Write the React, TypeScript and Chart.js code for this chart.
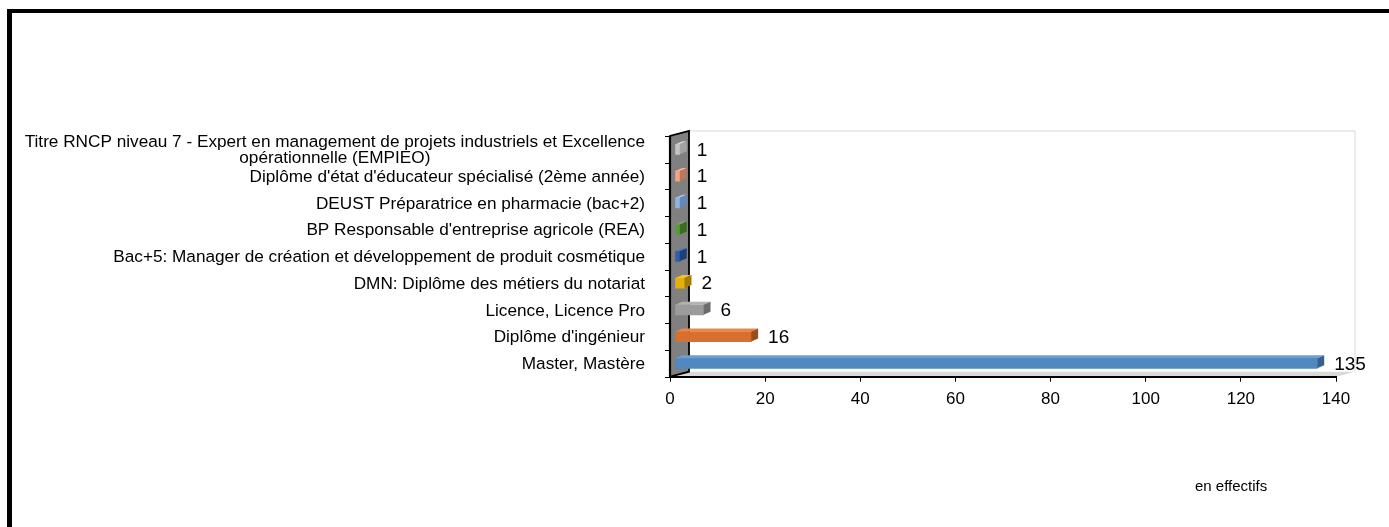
import React, { useEffect, useRef } from "react";
import { Chart, registerables } from "chart.js";

Chart.register(...registerables);

// ---------- data ----------
const categories: (string | string[])[] = [
  [
    "Titre RNCP niveau 7 - Expert en management de projets industriels et Excellence",
    "opérationnelle (EMPIEO)",
  ],
  "Diplôme d'état d'éducateur spécialisé (2ème année)",
  "DEUST Préparatrice en pharmacie (bac+2)",
  "BP Responsable d'entreprise agricole (REA)",
  "Bac+5: Manager de création et développement de produit cosmétique",
  "DMN: Diplôme des métiers du notariat",
  "Licence, Licence Pro",
  "Diplôme d'ingénieur",
  "Master, Mastère",
];
const values: number[] = [1, 1, 1, 1, 1, 2, 6, 16, 135];

const frontColors: string[] = [
  "#c4c4c4",
  "#f3a382",
  "#8fb3e2",
  "#5a9a37",
  "#2f5eab",
  "#e7b006",
  "#9b9b9b",
  "#d96f2c",
  "#4f89c0",
];
const topColors: string[] = [
  "#d6d6d6",
  "#f7bb9f",
  "#a9c6ec",
  "#74b050",
  "#4a78c2",
  "#f2c430",
  "#b2b2b2",
  "#e5884c",
  "#6a9fd0",
];
const sideColors: string[] = [
  "#a3a3a3",
  "#b8775e",
  "#6688b5",
  "#3c6b22",
  "#1f3f78",
  "#a67c00",
  "#6c6c6c",
  "#9b4c1b",
  "#36628f",
];

const xMin = 0;
const xMax = 140;
const xStep = 20;
const footnote = "en effectifs";

// ---------- style ----------
const FONT = "'Liberation Sans', Arial, Helvetica, sans-serif";
const DX = 19; // wall depth
const DY = -5;
const BAR_SHIFT = 5; // bar front plane offset from axis plane
const BAR_DX = 7;
const BAR_DY = -3;

function poly(ctx: CanvasRenderingContext2D, pts: number[][]) {
  ctx.beginPath();
  ctx.moveTo(pts[0][0], pts[0][1]);
  for (let i = 1; i < pts.length; i++) ctx.lineTo(pts[i][0], pts[i][1]);
  ctx.closePath();
}

const scenePlugin = {
  id: "scene3d",
  beforeDraw(chart: any) {
    const { ctx, chartArea: a, width, height } = chart;
    ctx.save();
    ctx.fillStyle = "#ffffff";
    ctx.fillRect(0, 0, width, height);

    // frame (top + left)
    ctx.fillStyle = "#000";
    ctx.fillRect(7, 9, width - 7, 4);
    ctx.fillRect(7, 9, 5, height - 9);

    // back wall outline
    ctx.strokeStyle = "#d9d9d9";
    ctx.lineWidth = 1;
    ctx.beginPath();
    ctx.moveTo(a.left + DX, a.top + DY);
    ctx.lineTo(a.right + DX, a.top + DY);
    ctx.lineTo(a.right + DX, a.bottom + DY);
    ctx.stroke();

    // floor
    ctx.fillStyle = "#d9d9d9";
    poly(ctx, [
      [a.left, a.bottom],
      [a.right, a.bottom],
      [a.right + DX, a.bottom + DY],
      [a.left + DX, a.bottom + DY],
    ]);
    ctx.fill();

    // left wall
    ctx.fillStyle = "#808080";
    poly(ctx, [
      [a.left, a.bottom],
      [a.left, a.top],
      [a.left + DX, a.top + DY],
      [a.left + DX, a.bottom + DY],
    ]);
    ctx.fill();
    ctx.strokeStyle = "#000";
    ctx.lineWidth = 1.8;
    ctx.stroke();
    ctx.lineWidth = 2.2;
    ctx.beginPath();
    ctx.moveTo(a.left, a.top);
    ctx.lineTo(a.left, a.bottom);
    ctx.stroke();

    // category tick marks
    const ys = chart.scales.y;
    const n = categories.length;
    const step = ys.getPixelForValue(1) - ys.getPixelForValue(0);
    ctx.lineWidth = 1;
    for (let i = 0; i <= n; i++) {
      const yy = Math.round(ys.getPixelForValue(i) - step / 2) + 0.5;
      ctx.beginPath();
      ctx.moveTo(a.left - 5, yy);
      ctx.lineTo(a.left, yy);
      ctx.stroke();
    }
    ctx.restore();
  },
  beforeDatasetsDraw(chart: any) {
    chart.ctx.save();
    chart.ctx.translate(BAR_SHIFT, 0);
  },
  afterDatasetsDraw(chart: any) {
    const ctx = chart.ctx;
    const meta = chart.getDatasetMeta(0);
    meta.data.forEach((el: any, i: number) => {
      const { x, y, base, height } = el.getProps(["x", "y", "base", "height"], true);
      const t = y - height / 2;
      const b = y + height / 2;
      // top face
      ctx.fillStyle = topColors[i];
      poly(ctx, [
        [base, t],
        [x, t],
        [x + BAR_DX, t + BAR_DY],
        [base + BAR_DX, t + BAR_DY],
      ]);
      ctx.fill();
      // side face
      ctx.fillStyle = sideColors[i];
      poly(ctx, [
        [x, t],
        [x + BAR_DX, t + BAR_DY],
        [x + BAR_DX, b + BAR_DY],
        [x, b],
      ]);
      ctx.fill();
      // value label
      ctx.fillStyle = "#000";
      ctx.font = `19px ${FONT}`;
      ctx.textAlign = "left";
      ctx.textBaseline = "middle";
      ctx.fillText(String(values[i]), x + 17, y + 1);
    });
    ctx.restore();
  },
  afterDraw(chart: any) {
    const { ctx, chartArea: a } = chart;
    const ys = chart.scales.y;
    ctx.save();
    ctx.fillStyle = "#000";
    ctx.font = `17.2px ${FONT}`;
    ctx.textBaseline = "middle";
    const right = a.left - 25;
    const lh = 16;
    categories.forEach((lab, i) => {
      const lines = Array.isArray(lab) ? lab : [lab];
      const cy = ys.getPixelForValue(i) + 1;
      const widths = lines.map((l) => ctx.measureText(l).width);
      const maxW = Math.max(...widths);
      const cx = right - maxW / 2;
      ctx.textAlign = "center";
      lines.forEach((l, k) => {
        const yy = cy + (k - (lines.length - 1) / 2) * lh;
        ctx.fillText(l, cx, yy);
      });
    });
    ctx.font = `15px ${FONT}`;
    ctx.textAlign = "left";
    ctx.fillText(footnote, 1195, 487);
    ctx.restore();
  },
};

export default function App() {
  const ref = useRef<HTMLCanvasElement | null>(null);
  useEffect(() => {
    if (!ref.current) return;
    const chart = new Chart(ref.current, {
      type: "bar",
      data: {
        labels: categories,
        datasets: [
          {
            data: values,
            backgroundColor: frontColors,
            borderWidth: 0,
            barThickness: 10,
          },
        ],
      },
      options: {
        indexAxis: "y",
        responsive: false,
        animation: false,
        events: [],
        layout: { padding: { left: 670, right: 53, top: 136, bottom: 110.3 } },
        plugins: { legend: { display: false }, tooltip: { enabled: false } },
        scales: {
          y: { type: "category", display: false, offset: true },
          x: {
            type: "linear",
            position: "bottom",
            min: xMin,
            max: xMax,
            ticks: {
              stepSize: xStep,
              color: "#000",
              padding: 7,
              font: { family: FONT, size: 17 },
            },
            grid: {
              drawOnChartArea: false,
              drawTicks: true,
              tickLength: 5,
              color: "#000",
              lineWidth: 1,
            },
            border: { display: true, color: "#000", width: 2 },
            afterFit: (s: any) => {
              s.height = 40;
            },
          },
        },
      },
      plugins: [scenePlugin],
    });
    return () => chart.destroy();
  }, []);
  return (
    <div style={{ position: "fixed", left: 0, top: 0, width: 1389, height: 527, background: "#fff" }}>
      <canvas ref={ref} width={1389} height={527} style={{ display: "block" }} />
    </div>
  );
}
